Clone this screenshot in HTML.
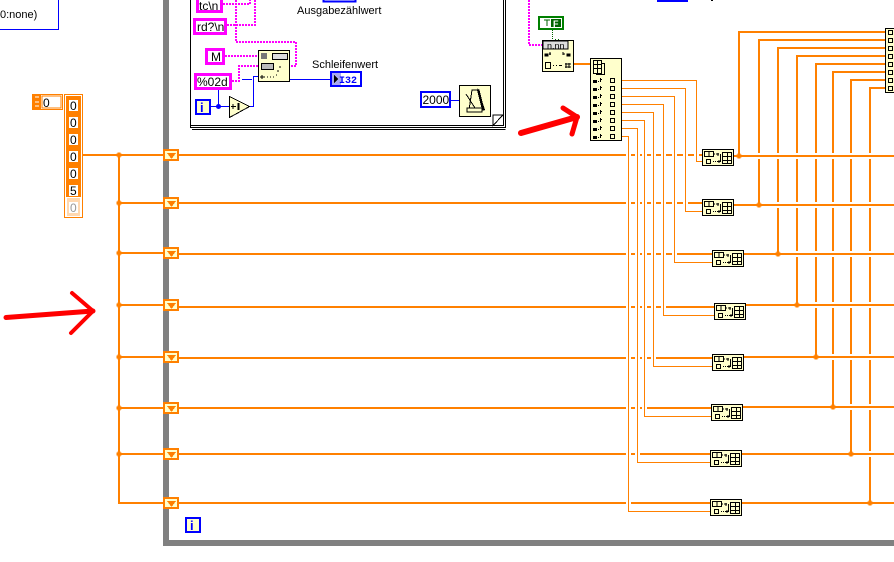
<!DOCTYPE html>
<html><head><meta charset="utf-8"><style>
html,body{margin:0;padding:0;background:#fff;width:894px;height:562px;overflow:hidden}
svg{display:block}
text{font-family:"Liberation Sans",sans-serif;font-size:11px;fill:#000}
.c{font-size:12px}
</style></head><body>
<svg width="894" height="562" viewBox="0 0 894 562" shape-rendering="crispEdges">
<defs>
<g id="bn">
<rect x=".5" y=".5" width="31" height="16" fill="#ffc" stroke="#000"/>
<rect x="2.500" y="2.500" width="9" height="5" fill="#ffc" stroke="#000"/>
<path d="M7 3v4M12 5h1M14 5h3M16 4v3" stroke="#000" fill="none"/>
<rect x="4.500" y="10.500" width="4" height="4" fill="#ffc" stroke="#000"/>
<path d="M11 12.500h1M13 12.500h1M15 12.500h3M17 11v3" stroke="#000" fill="none"/>
<path d="M18.500 5v8" stroke="#000"/>
<rect x="20.500" y="3.500" width="9" height="11" fill="#ffc" stroke="#000"/>
<path d="M20 7.500h9M20 11.500h9M25.500 4v10" stroke="#000"/>
</g>
<g id="tn">
<rect x="164" y="-5" width="14" height="10" fill="#ffc" stroke="#ff8000" stroke-width="2"/>
<path d="M167 -2h9l-4.500 6z" fill="#ff8000"/>
</g>
<path id="jn" d="M-2.500 -1.500h1v-1h3v1h1v3h-1v1h-3v-1h-1z" fill="#ff8000"/>
</defs>

<!-- top left box -->
<path d="M58.500 0V29.500H0" fill="none" stroke="#00f"/>
<text x="0" y="18">0:none)</text>

<!-- array -->
<rect x="32.500" y="94.500" width="30" height="15" fill="#fff" stroke="#ff8000"/>
<rect x="33" y="95" width="8" height="14" fill="#ff8000"/>
<path d="M35 97h4M35 102h4M35 106h4" stroke="#fff"/>
<rect x="42" y="96" width="19" height="12" fill="#fff" stroke="#ff8000"/>
<text x="43" y="107" class="c">0</text>
<rect x="64.500" y="94.500" width="18" height="123" fill="#fff" stroke="#ff8000"/>
<rect x="66" y="96" width="15" height="101" fill="#ff8000"/>
<rect x="67" y="198" width="13" height="18" fill="#ffd8b0"/>
<rect x="69" y="100" width="9" height="11" fill="#fff"/>
<rect x="69" y="117" width="9" height="11" fill="#fff"/>
<rect x="69" y="134" width="9" height="11" fill="#fff"/>
<rect x="69" y="151" width="9" height="11" fill="#fff"/>
<rect x="69" y="168" width="9" height="11" fill="#fff"/>
<rect x="69" y="185" width="9" height="11" fill="#fff"/>
<rect x="69" y="202" width="9" height="11" fill="#fff"/>
<g><text class="c" x="70" y="110">0</text><text class="c" x="70" y="127">0</text><text class="c" x="70" y="144">0</text><text class="c" x="70" y="161">0</text><text class="c" x="70" y="178">0</text><text class="c" x="70" y="195">5</text><text class="c" x="70" y="212" style="fill:#999">0</text></g>

<!-- loop border -->
<path d="M166 0V543H894" fill="none" stroke="#808080" stroke-width="6"/>
<rect x="186" y="518" width="14" height="14" fill="#ffc" stroke="#00f" stroke-width="2"/>
<text x="190" y="530" style="fill:#00f;font-weight:bold;font-size:13px">i</text>

<!-- left wires -->
<g stroke="#ff8000" stroke-width="2" fill="none">
<path d="M83 155H163M119 155V503M118 203H163M118 253H163M118 305H163M118 357H163M118 408H163M118 454H163M118 503H163"/>
<path d="M179 155H702M179 203H702M179 254H712M179 307H714M179 358H712M179 408H711M179 454H710M179 503H710"/>
</g>
<use href="#jn" x="119" y="155"/><use href="#jn" x="119" y="203"/><use href="#jn" x="119" y="253"/><use href="#jn" x="119" y="305"/><use href="#jn" x="119" y="357"/><use href="#jn" x="119" y="408"/><use href="#jn" x="119" y="454"/>
<use href="#tn" y="155"/><use href="#tn" y="203"/><use href="#tn" y="253"/><use href="#tn" y="305"/><use href="#tn" y="357"/><use href="#tn" y="408"/><use href="#tn" y="454"/><use href="#tn" y="503"/>

<!-- thin verticals -->
<g stroke="#fff" stroke-width="5" fill="none">
<path d="M696.500 150V160M685.500 150V208M674.500 150V260M663.500 150V312M653.500 150V363M644.500 150V413M637.500 150V459M628.500 150V508"/>
</g>
<g stroke="#ff8000" fill="none">
<path d="M622 80.500H696.500V161.500H702"/>
<path d="M622 88.500H685.500V211.500H702"/>
<path d="M622 96.500H674.500V262.500H712"/>
<path d="M622 104.500H663.500V315.500H714"/>
<path d="M622 112.500H653.500V366.500H712"/>
<path d="M622 120.500H644.500V416.500H711"/>
<path d="M622 128.500H637.500V462.500H710"/>
<path d="M622 136.500H628.500V511.500H710"/>
</g>

<!-- right verticals -->
<g stroke="#ff8000" stroke-width="2" fill="none">
<path d="M885 32H739V156M885 40H759V205M885 48H778V254M885 56H797V305M885 64H816V357M885 72H833V407M885 80H851V454M885 88H870V503"/>
</g>
<g stroke="#fff" stroke-width="6" fill="none">
<path d="M736 156H894M736 205H894M746 254H894M748 305H894M746 357H894M745 407H894M744 454H894M744 503H894"/>
</g>
<g stroke="#ff8000" stroke-width="2" fill="none">
<path d="M734 156H894M734 205H894M744 254H894M746 305H894M744 357H894M743 407H894M742 454H894M742 503H894"/>
<path d="M739 150V156M759 199V205M778 248V254M797 299V305M816 351V357M833 401V407M851 448V454M870 497V503"/>
</g>
<use href="#jn" x="739" y="156"/><use href="#jn" x="759" y="205"/><use href="#jn" x="778" y="254"/><use href="#jn" x="797" y="305"/><use href="#jn" x="816" y="357"/><use href="#jn" x="833" y="407"/><use href="#jn" x="851" y="454"/><use href="#jn" x="870" y="503"/>

<!-- small nodes -->
<use href="#bn" x="702" y="149"/><use href="#bn" x="702" y="199"/><use href="#bn" x="712" y="250"/><use href="#bn" x="714" y="303"/><use href="#bn" x="712" y="354"/><use href="#bn" x="711" y="404"/><use href="#bn" x="710" y="450"/><use href="#bn" x="710" y="499"/>

<!-- right edge node -->
<rect x="885.500" y="28.500" width="12" height="64" fill="#ffc" stroke="#000"/>
<g fill="#ffc" stroke="#000">
<rect x="888.500" y="30.500" width="4" height="4"/><rect x="888.500" y="38.500" width="4" height="4"/><rect x="888.500" y="46.500" width="4" height="4"/><rect x="888.500" y="54.500" width="4" height="4"/><rect x="888.500" y="62.500" width="4" height="4"/><rect x="888.500" y="70.500" width="4" height="4"/><rect x="888.500" y="78.500" width="4" height="4"/><rect x="888.500" y="86.500" width="4" height="4"/>
</g>

<!-- sequence frame -->
<path d="M190.500 0V125.500H503.500V0" fill="#fff" stroke="#000"/>
<path d="M190.500 125V127.500H505.500V0M192 129.500H505.500" fill="none" stroke="#000"/>
<path d="M503 115L493 125.500V115Z" fill="#fff" stroke="#000"/>
<path d="M323.500 -2V1.500H355.500V-2" fill="none" stroke="#00f" stroke-width="2"/>
<text x="297" y="14">Ausgabezählwert</text>
<text x="312" y="68">Schleifenwert</text>

<!-- magenta wires -->
<g fill="none" stroke="#f0f" stroke-width="2" stroke-dasharray="2 1">
<path d="M223 4H250V0"/>
<path d="M227 25H255V0"/>
<path d="M236 0V42H296V66H290"/>
<path d="M225 56H258"/>
<path d="M232 81H239V66H258"/>
<path d="M529 0V45H542"/>
</g>
<!-- blue wires -->
<g fill="none" stroke="#00f">
<path d="M242 79.500H252M211 106.500H229M218.500 90V106M250 106.500H253.500V76.500H258M290 79.500H331M451 100.500H459"/>
</g>
<circle cx="218.500" cy="106.500" r="2.500" fill="#00f" shape-rendering="auto"/>

<!-- constants -->
<g fill="#fff" stroke="#f0f" stroke-width="3">
<rect x="197.500" y="-3" width="24" height="14.500"/>
<rect x="194.500" y="19.500" width="31" height="14"/>
<rect x="206.500" y="49.500" width="17" height="14"/>
<rect x="195.500" y="74.500" width="35" height="14"/>
</g>
<text x="199" y="10" class="c">tc\n</text>
<text x="197" y="31" class="c">rd?\n</text>
<text x="211" y="61" class="c">M</text>
<text x="197" y="86" class="c">%02d</text>

<rect x="196" y="100" width="14" height="14" fill="#ffc" stroke="#00f" stroke-width="2"/>
<text x="200" y="112" style="fill:#00f;font-weight:bold;font-size:13px">i</text>
<path d="M229.500 96.500V117.500L249.500 106.500Z" fill="#ffc" stroke="#000"/>
<path d="M231 106.500h5M233 104v5M238 103v7M239 103v7" stroke="#000"/>

<!-- format node -->
<rect x="258.500" y="50.500" width="31" height="31" fill="#ffc" stroke="#000"/>
<rect x="261" y="53" width="6" height="6" fill="#777"/>
<rect x="272.500" y="53.500" width="15" height="6" fill="#ddd" stroke="#000"/>
<rect x="261.500" y="63.500" width="12" height="6" fill="#bbb" stroke="#000"/>
<path d="M260 77h5M262 75v4M267 77h1M270 77h1M273 77h1M276 75h1M278 72v-2M280 66v2" stroke="#000"/>

<!-- indicator -->
<rect x="331" y="72" width="30" height="14" fill="#fff" stroke="#00f" stroke-width="2"/>
<rect x="332" y="73" width="9" height="12" fill="#a8a8f0"/>
<path d="M334 75l4 4-4 4z" fill="#000"/>
<text x="339" y="83" style="fill:#00f;font-weight:bold;font-size:10px;font-family:'Liberation Mono',monospace">I32</text>

<!-- 2000 + metronome -->
<rect x="421" y="92" width="29" height="15" fill="#fff" stroke="#00f" stroke-width="2"/>
<text x="422.500" y="104" class="c">2000</text>
<rect x="459.500" y="85.500" width="31" height="31" fill="#ffc" stroke="#000"/>
<path d="M472 90h7l5 20h-15z" fill="#ffc" stroke="#000"/>
<path d="M478 88l7 22h-3l-5-20z" fill="#000"/>
<path d="M466 94l9 14" stroke="#000"/>
<rect x="467" y="108" width="15" height="4" fill="#ffc" stroke="#000"/>

<!-- green constant + node -->
<rect x="539" y="17" width="24" height="12" fill="#fff" stroke="#008000" stroke-width="2"/>
<rect x="551" y="19" width="10" height="8" fill="#006400"/>
<text x="553" y="27" style="fill:#fff;font-weight:bold;font-size:9px">F</text>
<path d="M544 20h6M547 20v6" stroke="#006400"/>
<path d="M552.500 30V40M555 39.500h2M558 39.500h2" stroke="#006400" stroke-dasharray="1 1"/>

<path d="M574 64H590" stroke="#ff8000" stroke-width="2"/>
<rect x="542.500" y="40.500" width="31" height="31" fill="#ffc" stroke="#000"/>
<rect x="543" y="41" width="25" height="8" fill="#ddd" stroke="#000"/>
<text x="547" y="49" style="font-size:9px">n.nn</text>
<path d="M545 54h3v2h-3zM549 54h2M550 52v3M563 52v3M563 54h2M567 54h3v2h-3z" fill="#000" stroke="#000"/>
<rect x="545.500" y="62.500" width="5" height="6" fill="#ffc" stroke="#000"/>
<path d="M553 65.500h1M556 65.500h1M559 65.500h3M566 63v5M569 63v5M565 64h6M565 67h6" stroke="#000"/>

<!-- big node -->
<rect x="590.500" y="58.500" width="31" height="82" fill="#ffc" stroke="#000"/>
<rect x="596.500" y="63.500" width="8" height="11" fill="#ffc" stroke="#000"/>
<path d="M593.500 60.500h8v13h-8zM593 64.500h9M593 68.500h9M597.500 60v13" fill="#ffc" stroke="#000"/>
<g fill="#ffc" stroke="#000">
<rect x="610.500" y="78.500" width="4" height="4"/><rect x="610.500" y="86.500" width="4" height="4"/><rect x="610.500" y="94.500" width="4" height="4"/><rect x="610.500" y="102.500" width="4" height="4"/><rect x="610.500" y="110.500" width="4" height="4"/><rect x="610.500" y="118.500" width="4" height="4"/><rect x="610.500" y="126.500" width="4" height="4"/><rect x="610.500" y="134.500" width="4" height="4"/>
</g>
<g fill="#000">
<path d="M593 80h4v3h-4zM598 81h1v1h-1zM600 78h1v4h-1zM601 79h1v1h-1z"/>
<path d="M593 88h4v3h-4zM598 89h1v1h-1zM600 86h1v4h-1zM601 87h1v1h-1z"/>
<path d="M593 96h4v3h-4zM598 97h1v1h-1zM600 94h1v4h-1zM601 95h1v1h-1z"/>
<path d="M593 104h4v3h-4zM598 105h1v1h-1zM600 102h1v4h-1zM601 103h1v1h-1z"/>
<path d="M593 112h4v3h-4zM598 113h1v1h-1zM600 110h1v4h-1zM601 111h1v1h-1z"/>
<path d="M593 120h4v3h-4zM598 121h1v1h-1zM600 118h1v4h-1zM601 119h1v1h-1z"/>
<path d="M593 128h4v3h-4zM598 129h1v1h-1zM600 126h1v4h-1zM601 127h1v1h-1z"/>
<path d="M593 136h4v3h-4zM598 137h1v1h-1zM600 134h1v4h-1zM601 135h1v1h-1z"/>
</g>

<!-- tiny mark -->
<rect x="657" y="0" width="31" height="2" fill="#00f"/>
<rect x="711" y="0" width="2" height="1" fill="#000"/>

<!-- red arrows -->
<g fill="none" stroke="#f00" stroke-linecap="round" stroke-linejoin="round" shape-rendering="auto">
<path d="M6 317.500L93 311" stroke-width="5"/>
<path d="M72 293L93 311L71 333" stroke-width="4"/>
<path d="M521 133L577 117" stroke-width="6"/>
<path d="M563 108L577 117L572 134" stroke-width="5"/>
</g>
</svg>
</body></html>
